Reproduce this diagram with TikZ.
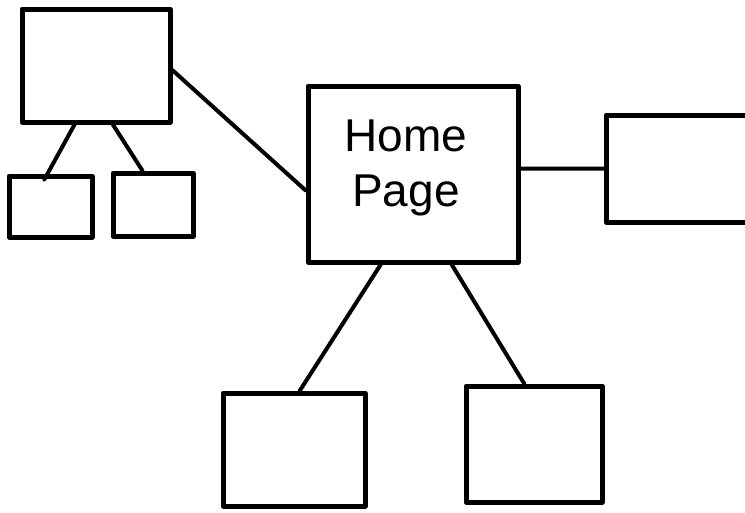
\documentclass[tikz,border=0pt]{standalone}
\usepackage{fontspec}
\newfontfamily\handfont{Liberation Sans}
\usetikzlibrary{calc}
\begin{document}
\begin{tikzpicture}[x=1pt,y=-1pt,
  pagebox/.style={draw=black,line width=5pt,line join=round,rectangle,inner sep=0pt,fill=white},
  link/.style={draw=black,line width=4pt,line cap=round}]
  \useasboundingbox[fill=white] (0,0) rectangle (745,512);
  \begin{scope}
  \clip (0,0) rectangle (745,512);
  % pages of the site map
  \node[pagebox,minimum width=148pt,minimum height=113pt] (tl) at (96,65.5) {};
  \node[pagebox,minimum width=83pt,minimum height=61pt] (s1) at (50.5,206.5) {};
  \node[pagebox,minimum width=80pt,minimum height=63pt] (s2) at (153,204.5) {};
  \node[pagebox,minimum width=210pt,minimum height=176pt] (home) at (413,174) {};
  \node[pagebox,minimum width=154pt,minimum height=107pt] (rt) at (683,168.5) {};
  \node[pagebox,minimum width=142pt,minimum height=113pt] (b1) at (294,449.5) {};
  \node[pagebox,minimum width=136pt,minimum height=116pt] (b2) at (534,444) {};
  \node[font=\handfont\fontsize{46}{55}\selectfont,align=center,inner sep=0pt] (label) at (406,168) {Home\\Page};
  % links between pages
  \draw[link] ($(tl.south west)!0.36!(tl.south east)$) -- ($(s1.north west)!0.43!(s1.north east)+(0,6)$);
  \draw[link] ($(tl.south west)!0.61!(tl.south east)$) -- ($(s2.north west)!0.375!(s2.north east)$);
  \draw[link] ($(tl.north east)!0.54!(tl.south east)$) -- ($(home.north west)!0.59!(home.south west)$);
  \draw[link] ($(home.north east)!0.47!(home.south east)$) -- ($(rt.north west)!0.5!(rt.south west)$);
  \draw[link] ($(home.south west)!0.35!(home.south east)$) -- ($(b1.north west)!0.54!(b1.north east)$);
  \draw[link] ($(home.south west)!0.68!(home.south east)$) -- ($(b2.north west)!0.43!(b2.north east)$);
  \end{scope}
\end{tikzpicture}
\end{document}
